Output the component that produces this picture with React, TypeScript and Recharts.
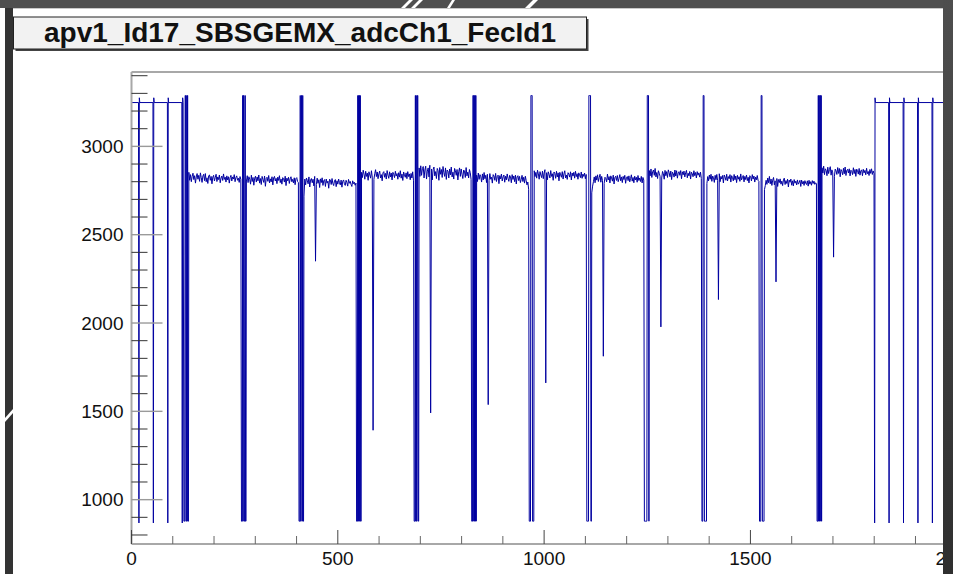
import React from 'react';
import { LineChart, Line, XAxis, YAxis, ReferenceLine } from 'recharts';

// ---- signal levels (ADC counts) ----
const IDLE_LEVEL = 3248;
const IDLE_OVERSHOOT = 3275;
const SYNC_LOW = 868;
const HEADER_HIGH = 3288;
const HEADER_LOW = 878;

// ---- sample positions ----
const idlePulsesLeft = [18, 53, 88, 123];
const idlePulsesRight = [1801, 1836, 1871, 1906, 1941, 1976, 2011, 2046, 2081];
const frameStarts = [127, 266.5, 406, 545.5, 685, 824.5, 964, 1103.5, 1243, 1382.5, 1522, 1661.5];
const frameBaselines = [2818, 2810, 2800, 2835, 2848, 2822, 2835, 2815, 2842, 2820, 2800, 2855];
const hitChannelIndex = 14;
const hitValues: (number | null)[] = [null, null, 2350, 1393, 1491, 1538, 1661, 1812, 1978, 2133, 2233, 2373];

const headerBits = [
  [1, 1, 1, 0, 0, 1, 1, 0, 1, 0, 1, 1],
  [1, 1, 1, 0, 1, 0, 0, 1, 1, 0, 1, 1],
  [1, 1, 1, 0, 1, 1, 0, 0, 1, 0, 1, 1],
  [1, 1, 1, 0, 1, 0, 1, 0, 1, 0, 1, 1],
  [1, 1, 1, 0, 1, 0, 1, 1, 0, 0, 1, 1],
  [1, 1, 1, 0, 0, 1, 0, 1, 0, 1, 0, 1],
  [1, 1, 1, 1, 0, 0, 0, 0, 1, 1, 1, 1],
  [1, 1, 1, 1, 1, 0, 0, 0, 0, 0, 1, 1],
  [1, 1, 1, 1, 1, 1, 1, 0, 0, 0, 0, 1],
  [1, 1, 1, 0, 0, 0, 1, 1, 1, 1, 1, 1],
  [1, 1, 1, 1, 0, 0, 0, 1, 1, 1, 1, 1],
  [1, 1, 1, 0, 1, 0, 1, 0, 0, 1, 0, 1],
];

// ---- analog channel readings per frame (deviation from frame baseline, every 2nd channel) ----
const noiseF1 = [35, -10, 22, -18, 12, 30, -6, 16, -26, 9, 28, -4, 18, -16, 32, 6, -22, 14, 24, -12, 28, -18, 4, -28, 16, 20, -10, 12, -30, 8, 18, -14, 5, 24, -17, 9, -6, 20, -24, 3, 14, -11, 26, -5, 8, -20, 15, -8, 10, -26, 5, 18, -14, 9, -3, 22, -18, 6, 15, -10, 2, -22, 11, -5];
const noiseF2 = [-6, 24, -15, 18, 4, -24, 27, -9, 14, -30, 10, 21, -12, 17, -5, 28, -18, 8, -26, 20, 3, -14, 22, -36, 9, 15, -8, 25, -17, 6, -11, 18, -28, 12, 20, -6, 9, -21, 16, -3, 24, -15, 5, -24, 13, 8, -12, 21, -32, 10, -5, 15, -20, 6, 18, -10, 3, -17, 12, -27, 8, 13, -9, -15];
const noiseF3 = [-82, 15, -18, 21, 8, -12, 27, -30, 9, 18, -6, 14, -24, 30, 4, -15, 20, -9, 11, -33, 16, -5, 22, -21, 6, 12, -27, 15, -8, 3, -37, 14, 9, -16, 18, -10, -22, 6, 12, -28, 5, -14, 15, -6, -18, 9, -31, 3, 10, -12, -21, 8, -5, -25, 13, -9, 2, -15, -27, 5, -11, -3, -20, -8];
const noiseF4 = [18, -12, 30, 8, -21, 24, -5, 14, -27, 21, 3, -15, 27, -9, 16, -22, 10, 33, -6, 20, -18, 9, 25, -14, 5, -30, 15, 22, -10, 12, -20, 28, 2, -16, 21, -8, 14, -25, 18, 6, -12, 24, -3, 11, -21, 16, -9, 27, -15, 8, -28, 20, 4, -10, 15, -18, 22, -6, 9, -24, 12, -14, 21, -30];
const noiseF5 = [30, -18, 42, -12, 26, 38, -27, 18, 40, -33, 12, 30, -21, 45, -9, 24, -38, 21, 35, -15, 9, -30, 27, 15, -40, 32, -6, 21, -24, 38, 3, -18, 30, -35, 18, 12, -27, 24, -9, 35, -21, 6, -33, 27, 15, -12, 21, -38, 9, 30, -18, 24, -6, -30, 18, 12, -24, 32, -15, 6, -27, 21, 3, -35];
const noiseF6 = [15, -21, 27, -9, 18, 6, -24, 22, -12, 30, -5, 14, -27, 20, 9, -16, 24, -8, 3, -30, 18, 10, -14, 25, -21, 8, 15, -33, 12, -6, 21, -18, 5, 16, -25, 9, -12, 22, -3, -20, 14, 6, -28, 18, -9, 10, -22, 15, -35, 5, 12, -16, 8, -27, -9, 14, -21, 3, -30, 9, -15, -40, -24, -65];
const noiseF7 = [27, -6, 18, -15, 30, 9, -21, 22, 3, -12, 25, -18, 14, 33, -9, 16, -24, 21, 6, -14, 28, -5, 10, -27, 20, 12, -16, 24, -8, 15, -30, 18, 4, -10, 22, -20, 9, 27, -14, 3, -22, 16, 8, -9, 21, -25, 14, -3, 18, -15, 24, -6, 10, -21, 15, 2, -12, 20, -16, 8, -5, 14, -18, 6];
const noiseF8 = [-78, -40, -15, 12, -21, 18, -6, 24, -14, 8, 27, -18, 15, -9, 21, -25, 10, 3, -16, 28, -5, 14, -22, 18, 6, -12, 22, -28, 9, 16, -8, 20, -15, 4, 25, -10, 12, -20, 15, -3, 21, -24, 8, 14, -9, 18, -16, 3, 24, -12, 9, -21, 16, -5, 10, -18, 20, -8, 6, -14, 15, -22, 9, -6];
const noiseF9 = [21, -9, 30, -18, 14, 24, -6, 33, -15, 10, -24, 20, 6, -12, 27, -21, 16, 3, -28, 22, -8, 15, -18, 25, 9, -14, 18, -30, 12, 4, -16, 24, -10, 20, -22, 8, 15, -6, 21, -25, 14, -3, 18, -15, 9, 22, -20, 6, -9, 16, -27, 12, 3, -14, 20, -8, 10, -21, 15, -5, 8, -16, 12, -24];
const noiseF10 = [-30, 9, -15, 18, -6, 22, -18, 12, 3, -24, 16, -9, 21, -14, 8, 25, -20, 10, -5, 15, -27, 18, 6, -12, 22, -16, 9, -3, 20, -22, 14, 4, -15, 21, -9, 12, -25, 16, -6, 8, -18, 24, -10, 3, 15, -21, 10, -8, 18, -14, 5, -27, 14, 9, -16, 20, -5, 12, -22, 6, -9, 15, -12, -18];
const noiseF11 = [-45, -22, 8, -15, 21, -6, 30, -12, 15, -21, 9, 24, -18, 5, -9, 18, -27, 12, -5, 16, -14, 3, -22, 10, 20, -16, 6, -10, 14, -30, 9, -3, 15, -20, 5, -24, 12, -8, 3, -18, 10, -14, -5, 8, -27, 9, -12, 2, -21, 6, -9, -16, 5, -25, 8, -14, 0, -20, 6, -10, 3, -15, -6, -12];
const noiseF12 = [24, -6, 33, -15, 18, 9, -21, 27, -9, 15, 30, -18, 12, -5, 22, -24, 16, 6, -14, 25, -8, 20, -27, 14, 3, -16, 21, -10, 28, -20, 9, 15, -6, 18, -22, 10, 4, -15, 24, -9, 14, -25, 16, 8, -12, 20, -18, 6, 12, -21, 15, -5, 9, -16, 21, -10, 3, -20, 14, -8, 18, -14, 6, -9];
const frameNoise = [noiseF1, noiseF2, noiseF3, noiseF4, noiseF5, noiseF6, noiseF7, noiseF8, noiseF9, noiseF10, noiseF11, noiseF12];

// ---- axes ----
const xTicks = [0, 100, 200, 300, 400, 500, 600, 700, 800, 900, 1000, 1100, 1200, 1300, 1400, 1500, 1600, 1700, 1800, 1900, 2000];
const yTicks = [800, 900, 1000, 1100, 1200, 1300, 1400, 1500, 1600, 1700, 1800, 1900, 2000, 2100, 2200, 2300, 2400, 2500, 2600, 2700, 2800, 2900, 3000, 3100, 3200, 3300, 3400];
const xDomain = [0, 2100];
const yDomain = [749, 3421];
const TITLE = 'apv1_Id17_SBSGEMX_adcCh1_FecId1';

type Pt = { x: number; y: number };

function buildPoints(): Pt[] {
  const pts: Pt[] = [{ x: 0, y: IDLE_LEVEL }];
  for (const p of idlePulsesLeft) {
    pts.push({ x: p - 1, y: IDLE_LEVEL }, { x: p, y: SYNC_LOW }, { x: p + 1, y: IDLE_OVERSHOOT }, { x: p + 2, y: IDLE_LEVEL });
  }
  frameStarts.forEach((s, f) => {
    headerBits[f].forEach((b, i) => pts.push({ x: s + i, y: b ? HEADER_LOW : HEADER_HIGH }));
    frameNoise[f].forEach((d, k) => {
      const hv = hitValues[f];
      pts.push({ x: s + 12 + 2 * k, y: k === hitChannelIndex && hv != null ? hv : frameBaselines[f] + d });
    });
  });
  for (const p of idlePulsesRight) {
    pts.push({ x: p, y: SYNC_LOW }, { x: p + 1, y: IDLE_OVERSHOOT }, { x: p + 2, y: IDLE_LEVEL }, { x: p + 34, y: IDLE_LEVEL });
  }
  pts.push({ x: 2100, y: IDLE_LEVEL });
  return pts;
}

const points = buildPoints();
const FONT = '"Liberation Sans", Arial, Helvetica, sans-serif';

const XTick = (props: any) => {
  const { x, y, payload } = props;
  const v = payload.value as number;
  const major = v % 500 === 0;
  return (
    <g>
      <line x1={x} x2={x} y1={y} y2={y - (major ? 14 : 8)} stroke={major ? '#444' : '#666'} strokeWidth={1} />
      {major && (
        <text x={x} y={y + 20.5} textAnchor="middle" fontSize={19} fontFamily={FONT} fill="#111">
          {v}
        </text>
      )}
    </g>
  );
};

const YTick = (props: any) => {
  const { x, y, payload } = props;
  const v = payload.value as number;
  const major = v % 500 === 0;
  return (
    <g>
      <line x1={x} x2={x + (major ? 31 : 16)} y1={y} y2={y} stroke={major ? '#9a9a9a' : '#333'} strokeWidth={major ? 1.4 : 1} />
      {major && (
        <text x={x - 8} y={y + 6.7} textAnchor="end" fontSize={19} fontFamily={FONT} fill="#111">
          {v}
        </text>
      )}
    </g>
  );
};

export default function App() {
  return (
    <div style={{ position: 'fixed', left: 0, top: 0, width: 953, height: 574, overflow: 'hidden', background: '#fff' }}>
      <div style={{ position: 'absolute', left: 0, top: 0 }}>
        <LineChart width={1000} height={574} data={points} margin={{ top: 72, right: 2, bottom: 0, left: 0.5 }}>
          <XAxis
            dataKey="x"
            type="number"
            domain={xDomain}
            ticks={xTicks}
            interval={0}
            height={30}
            tickSize={0}
            tickMargin={0}
            tickLine={false}
            axisLine={{ stroke: '#a8a8a8', strokeWidth: 2 }}
            tick={(p: any) => <XTick {...p} />}
            allowDataOverflow
          />
          <YAxis
            type="number"
            domain={yDomain}
            ticks={yTicks}
            interval={0}
            width={131}
            tickSize={0}
            tickMargin={0}
            tickLine={false}
            axisLine={{ stroke: '#a8a8a8', strokeWidth: 2 }}
            tick={(p: any) => <YTick {...p} />}
            allowDataOverflow
          />
          <ReferenceLine y={3421} stroke="#a8a8a8" strokeWidth={2} />
          <Line dataKey="y" type="linear" stroke="#0000a0" strokeWidth={1} dot={false} isAnimationActive={false} />
        </LineChart>
      </div>
      <svg width={953} height={574} style={{ position: 'absolute', left: 0, top: 0, pointerEvents: 'none' }}>
        <defs>
          <linearGradient id="rb" x1="0" y1="0" x2="0" y2="1">
            <stop offset="0" stopColor="#4e4e4e" />
            <stop offset="1" stopColor="#2f2f2f" />
          </linearGradient>
        </defs>
        <rect x={0} y={0} width={953} height={8} fill="#4f4f4f" />
        <line x1={13} x2={943} y1={8.5} y2={8.5} stroke="#c8c8c8" strokeWidth={1} />
        <rect x={5} y={8} width={8} height={566} fill="#333" />
        <rect x={943} y={0} width={10} height={574} fill="url(#rb)" />
        <polygon points="401,8 405,8 413,0 409,0" fill="#fff" />
        <polygon points="411,8 415,8 423,0 419,0" fill="#fff" />
        <polygon points="447,8 450,8 455,0 452,0" fill="#fff" />
        <polygon points="525,8 530,8 538,0 533,0" fill="#fff" />
        <polygon points="5,422 5,418 13,409 13,413" fill="#fff" />
        <rect x={15.5} y={19} width={573} height={32} fill="#444" />
        <rect x={13.5} y={17} width={573} height={32} fill="#f2f2f2" stroke="#222" strokeWidth={1} />
        <text x={300} y={41.5} textAnchor="middle" fontSize={28} fontWeight="bold" fontFamily={FONT} fill="#111">
          {TITLE}
        </text>
      </svg>
    </div>
  );
}
